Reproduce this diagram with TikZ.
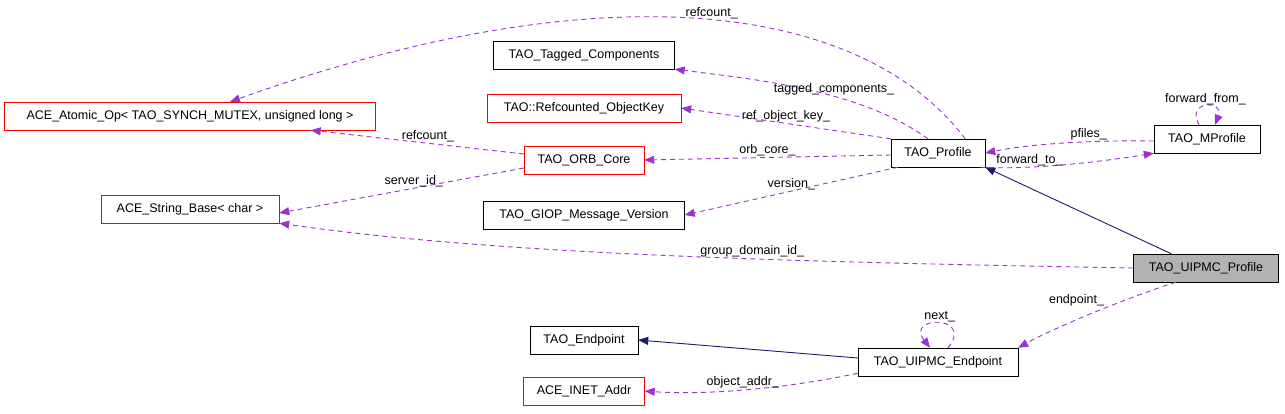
\documentclass[tikz,border=0pt]{standalone}
\usepackage{fontspec}
\setmainfont{Liberation Sans}
\usetikzlibrary{arrows.meta}
\definecolor{usecol}{HTML}{9A32CD}
\definecolor{isacol}{HTML}{191970}
\tikzset{every node/.style={font=\fontsize{12.5}{14}\selectfont}}
\tikzset{cls/.style={rectangle, draw=black, fill=white, minimum height=28pt, inner sep=2pt}}
\tikzset{red cls/.style={cls, draw=red}}
\tikzset{use/.style={draw=usecol, line width=0.9pt, dash pattern=on 5pt off 4pt, -{Triangle[length=10pt,width=8pt]}}}
\tikzset{isa/.style={draw=isacol, line width=0.9pt, -{Triangle[length=10pt,width=8pt]}}}
\tikzset{lbl/.style={fill=none, inner sep=1pt}}
\begin{document}
\begin{tikzpicture}[x=1pt, y=-1pt]
    \useasboundingbox (0,0) rectangle (1285,413);
    % Place nodes
    \node [red cls, minimum width=371pt] (atomic) at (190,116) {ACE\_Atomic\_Op< TAO\_SYNCH\_MUTEX, unsigned long >};
    \node [red cls, minimum width=178pt] (strbase) at (190,209) {ACE\_String\_Base< char >};
    \node [cls, minimum width=181pt] (tagged) at (584,55) {TAO\_Tagged\_Components};
    \node [red cls, minimum width=194pt] (objkey) at (584,108) {TAO::Refcounted\_ObjectKey};
    \node [red cls, minimum width=120pt] (orb) at (584,160) {TAO\_ORB\_Core};
    \node [cls, minimum width=201pt] (giop) at (584,215) {TAO\_GIOP\_Message\_Version};
    \node [cls, minimum width=94pt] (profile) at (938,153) {TAO\_Profile};
    \node [cls, minimum width=106pt] (mprofile) at (1207,139) {TAO\_MProfile};
    \node [cls, fill=black!30, minimum width=145pt] (uipmc) at (1206,268) {TAO\_UIPMC\_Profile};
    \node [cls, minimum width=108pt] (endpt) at (584,340) {TAO\_Endpoint};
    \node [cls, minimum width=160pt] (uendpt) at (938,362) {TAO\_UIPMC\_Endpoint};
    \node [red cls, minimum width=121pt] (inet) at (584,391) {ACE\_INET\_Addr};
    % Draw edges
    \draw [isa] (uipmc.north west) ++(38,0) -- (profile.south east);
    \draw [isa] (uendpt.west) ++(0,-4) -- (endpt.east);
    \draw [use] (profile.north east) ++(-20,0) .. controls (860,0) and (600,-30) .. ([xshift=40pt]atomic.north) node [lbl, pos=0.48, above] {refcount\_};
    \draw [use] (profile.north) ++(-10,0) .. controls (860,90) and (760,80) .. (tagged.south east) node [lbl, pos=0.4, above] {tagged\_components\_};
    \draw [use] (profile.north west) -- (objkey.east) node [lbl, pos=0.5, above] {ref\_object\_key\_};
    \draw [use] (profile.west) ++(0,2) -- (orb.east) node [lbl, pos=0.5, above] {orb\_core\_};
    \draw [use] (profile.south) ++(-40,0) -- (giop.east) node [lbl, pos=0.5, above] {version\_};
    \draw [use] (orb.west) ++(0,-6) -- ([xshift=-65pt]atomic.south east) node [lbl, pos=0.45, above] {refcount\_};
    \draw [use] (orb.west) ++(0,8) -- ([yshift=-4pt]strbase.east) node [lbl, pos=0.45, above] {server\_id\_};
    \draw [use] (uipmc.west) .. controls (800,262) and (500,255) .. (strbase.south east) node [lbl, pos=0.4, above] {group\_domain\_id\_};
    \draw [use] (mprofile.west) ++(0,2) .. controls (1090,140) and (1030,144) .. (profile.east) node [lbl, pos=0.35, above] {pfiles\_};
    \draw [use] (profile.south east) ++(-5,0) .. controls (1030,170) and (1100,162) .. (mprofile.south west) node [lbl, pos=0.3, above] {forward\_to\_};
    \draw [use] (mprofile.north) ++(-8,0) .. controls (1185,100) and (1225,100) .. ([xshift=8pt]mprofile.north) node [lbl, pos=0.5, above] {forward\_from\_};
    \draw [use] (uipmc.south) ++(-30,0) .. controls (1120,300) and (1050,330) .. (uendpt.north east) node [lbl, pos=0.4, above left] {endpoint\_};
    \draw [use] (uendpt.north) ++(10,0) .. controls (975,315) and (905,315) .. ([xshift=-8pt]uendpt.north) node [lbl, pos=0.5, above] {next\_};
    \draw [use] (uendpt.south west) ++(0,-3) .. controls (780,390) and (700,395) .. (inet.east) node [lbl, pos=0.5, above] {object\_addr\_};
\end{tikzpicture}
\end{document}
